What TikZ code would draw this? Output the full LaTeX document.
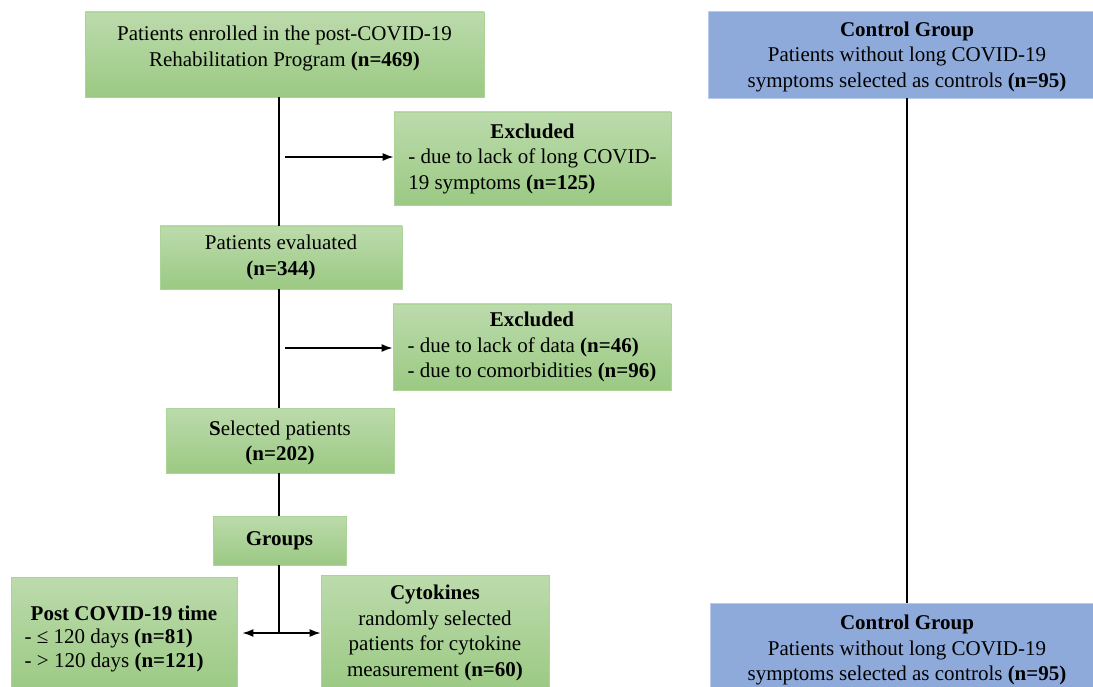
\documentclass[tikz,border=0pt]{standalone}
\usepackage{fontspec}
\setmainfont{Liberation Serif}
\usetikzlibrary{arrows.meta}

\definecolor{boxtop}{RGB}{188,219,172}
\definecolor{boxbot}{RGB}{155,201,131}
\definecolor{boxedge}{RGB}{172,212,152}
\definecolor{ctrlfill}{RGB}{142,170,219}
\definecolor{ctrledge}{RGB}{186,202,234}

\tikzset{
  flowbox/.style={draw=boxedge, line width=0.8pt, top color=boxtop, bottom color=boxbot,
    inner sep=0pt, align=center, font=\fontsize{21}{25.5}\selectfont},
  ctrlbox/.style={draw=ctrledge, line width=0.8pt, fill=ctrlfill,
    inner sep=0pt, align=center, font=\fontsize{21}{25.5}\selectfont},
  link/.style={line width=1.5pt},
  arr/.style={link, -{Latex[length=11pt,width=8pt]}},
}

\begin{document}
\begin{tikzpicture}[x=1pt,y=-1pt]
\useasboundingbox (0,0) rectangle (1093,687);

% main column
\node[flowbox, minimum width=399pt, minimum height=85pt, text depth=17pt] (enrolled) at (284.5,54.5)
  {Patients enrolled in the post-COVID-19\\ Rehabilitation Program \textbf{(n=469)}};
\node[flowbox, minimum width=277pt, minimum height=93pt] (excl1) at (532.5,158.5)
  {\begin{tabular}{@{}l@{}}\multicolumn{1}{c}{\textbf{Excluded}}\\
   - due to lack of long COVID-\\ 19 symptoms \textbf{(n=125)}\end{tabular}};
\node[flowbox, minimum width=242pt, minimum height=63pt] (evaluated) at (281,257.5)
  {Patients evaluated\\ \textbf{(n=344)}};
\node[flowbox, minimum width=278pt, minimum height=86pt] (excl2) at (532,347)
  {\begin{tabular}{@{}l@{}}\multicolumn{1}{c}{\textbf{Excluded}}\\
   - due to lack of data \textbf{(n=46)}\\ - due to comorbidities \textbf{(n=96)}\end{tabular}};
\node[flowbox, minimum width=228pt, minimum height=65pt, text depth=-2pt] (selected) at (280,440.5)
  {\textbf{S}elected patients\\ \textbf{(n=202)}};
\node[flowbox, minimum width=133pt, minimum height=49pt] (groups) at (279.5,540.5)
  {\textbf{Groups}};
\node[flowbox, minimum width=226pt, minimum height=116pt, text depth=0pt] (posttime) at (124,635)
  {\begin{tabular}[b]{@{}l@{}}\multicolumn{1}{c}{\textbf{Post COVID-19 time}}\\[-2pt]
   - ≤ 120 days \textbf{(n=81)}\\[-2pt] - > 120 days \textbf{(n=121)}\end{tabular}};
\node[flowbox, minimum width=228pt, minimum height=115pt] (cytokines) at (435,633)
  {\textbf{Cytokines}\\ randomly selected\\ patients for cytokine\\ measurement \textbf{(n=60)}};

% control group
\node[ctrlbox, minimum width=398pt, minimum height=87pt, text depth=-4pt] (ctrltop) at (907,54.5)
  {\textbf{Control Group}\\ Patients without long COVID-19\\ symptoms selected as controls \textbf{(n=95)}};
\node[ctrlbox, minimum width=394pt, minimum height=90pt, text depth=-1.5pt] (ctrlbot) at (907,648)
  {\textbf{Control Group}\\ Patients without long COVID-19\\ symptoms selected as controls \textbf{(n=95)}};

% connectors
\coordinate (trunk) at (279,0);
\coordinate (tap1) at (285,157);
\coordinate (tap2) at (285,348);
\coordinate (split) at (279,633);

\draw[link] (enrolled.south -| trunk) -- (evaluated.north -| trunk);
\draw[link] (evaluated.south -| trunk) -- (selected.north -| trunk);
\draw[link] (selected.south -| trunk) -- (groups.north -| trunk);
\draw[link] (groups.south -| trunk) -- (split);
\draw[arr] (tap1) -- (tap1 -| excl1.west);
\draw[arr] (tap2) -- (tap2 -| excl2.west);
\draw[arr, shorten >=5pt] (split) -- (split -| posttime.east);
\draw[arr] (split) -- (split -| cytokines.west);
\draw[link, line width=1.2pt] (ctrltop.south) -- (ctrlbot.north);

\end{tikzpicture}
\end{document}
